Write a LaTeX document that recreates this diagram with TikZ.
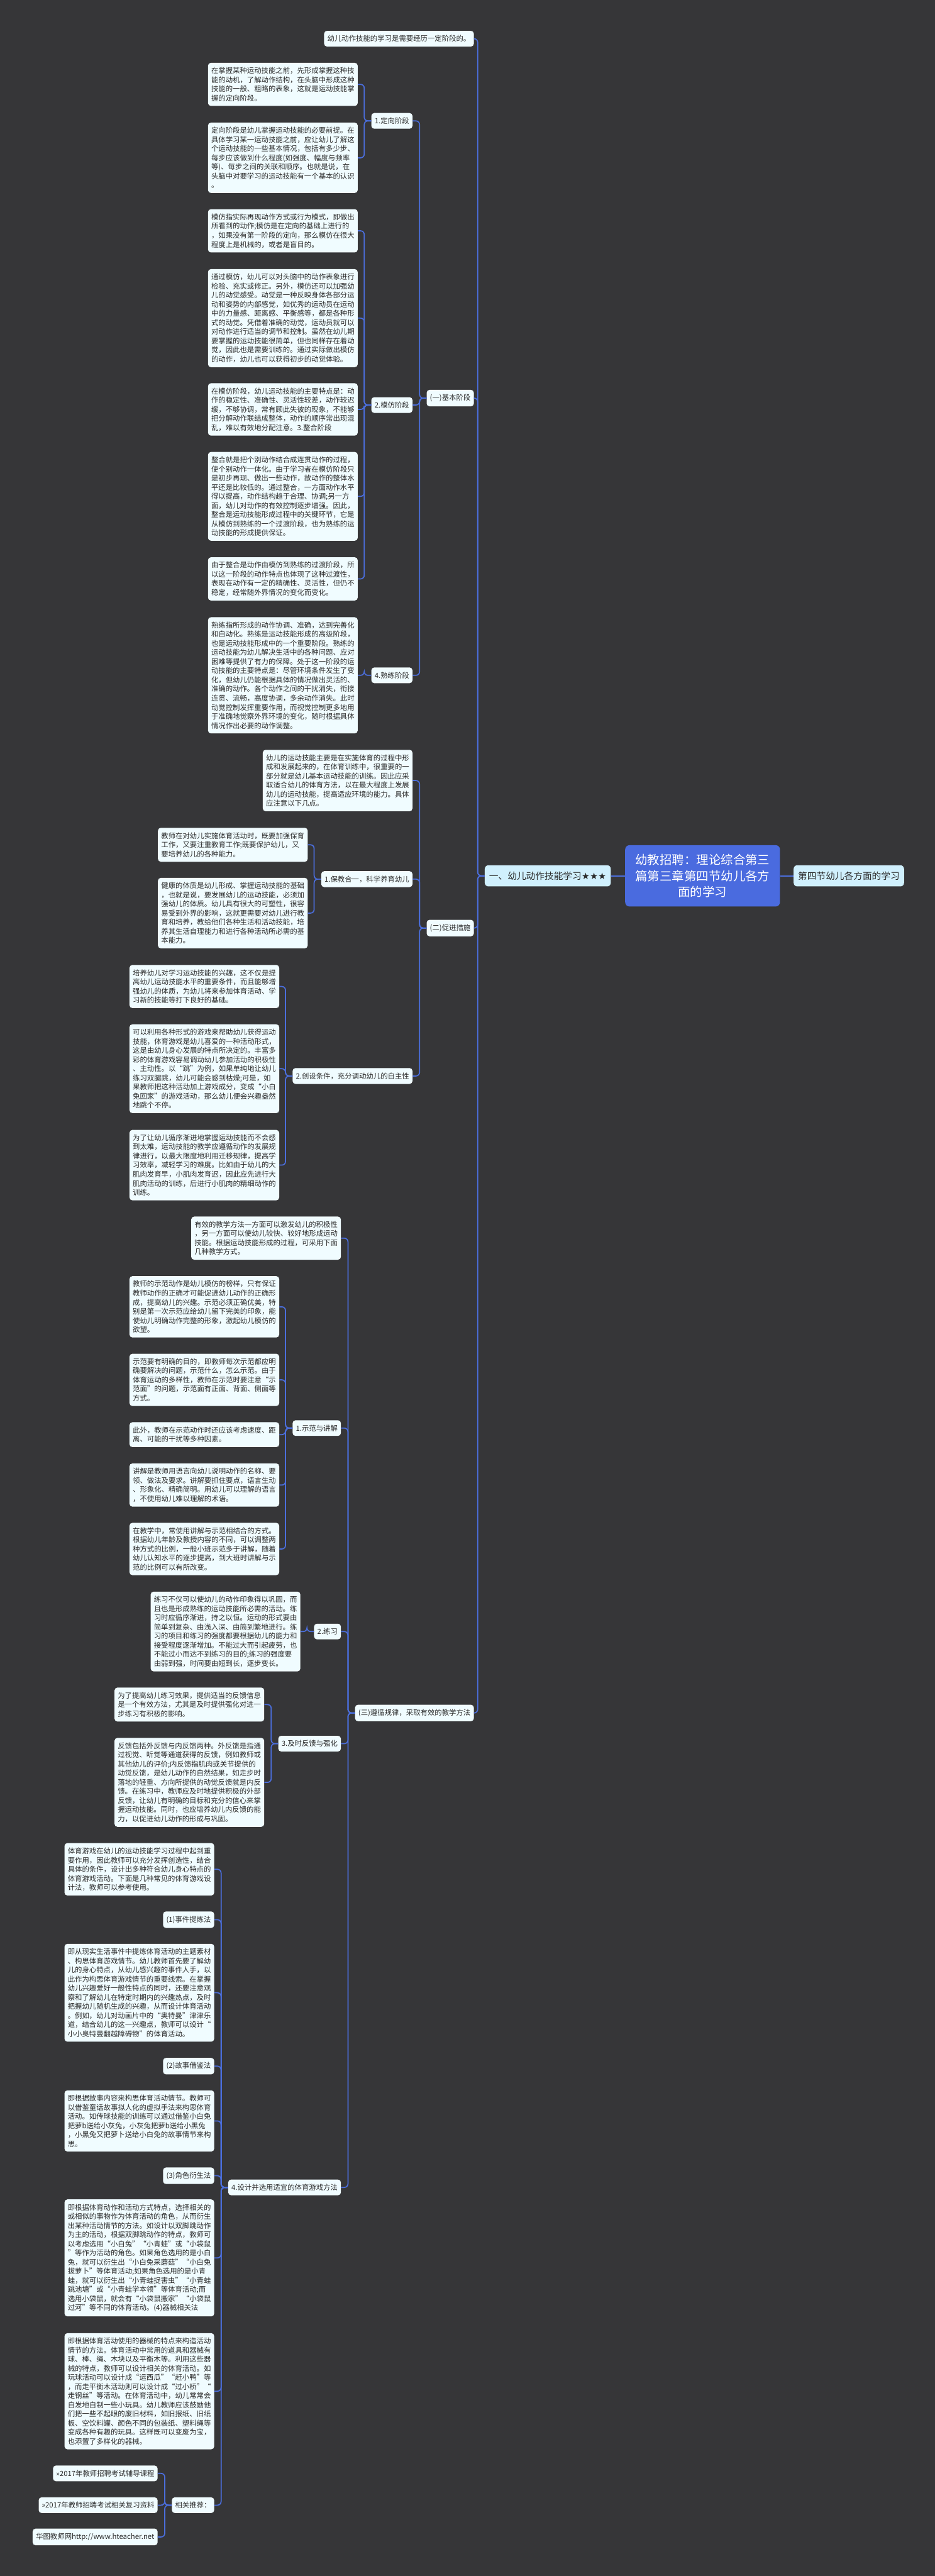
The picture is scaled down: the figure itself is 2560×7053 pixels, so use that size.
\documentclass[tikz,border=0pt]{standalone}
\usepackage{fontspec}
\setmainfont{Noto Sans CJK SC}
\newfontfamily\dejavu{DejaVu Sans}
\definecolor{bgc}{HTML}{363638}
\definecolor{linec}{HTML}{4B6EDC}
\definecolor{boxc}{HTML}{F0FCFF}
\definecolor{lvc}{HTML}{D0F0FD}
\definecolor{rootc}{HTML}{4A6BDF}
\definecolor{txtc}{HTML}{2B2B2B}
\tikzset{
  box/.style={fill=boxc, rounded corners=4pt, text=txtc, font=\fontsize{9.8pt}{12.5pt}\selectfont, inner xsep=4.5pt, inner ysep=6.2pt, anchor=east},
  tbox/.style={box, text width=196pt, align=left},
  lvone/.style={fill=lvc, rounded corners=5pt, text=txtc, font=\fontsize{12.65pt}{15pt}\selectfont, inner xsep=6pt, inner ysep=8.6pt},
  rootbox/.style={fill=rootc, rounded corners=6pt, text=white, font=\fontsize{16.75pt}{22pt}\selectfont, align=center, minimum width=212pt, minimum height=84pt, inner xsep=6pt},
  conn/.style={draw=linec, line width=1.5pt, rounded corners=5pt}
}
\newcommand\lnk[2]{\draw[conn] (#1.west) -- ++(-9.5pt,0pt) |- (#2.east);}
\begin{document}
\begin{tikzpicture}[x=0.5pt,y=-0.5pt]
\fill[bgc] (0,0) rectangle (2560,7053);
\useasboundingbox (0,0) rectangle (2560,7053);

% root and level one
\node[rootbox] (root) at (1924,2398) {幼教招聘：理论综合第三\\篇第三章第四节幼儿各方\\面的学习};
\node[lvone, anchor=east] (L1) at (1673,2398) {一、幼儿动作技能学习{\dejavu ★★★}};
\node[lvone, anchor=west] (R1) at (2173,2398) {第四节幼儿各方面的学习};

% second level
\node[tbox] (T0) at (1298,106) {幼儿动作技能的学习是需要经历一定阶段的。};
\node[box] (S1) at (1298,1090) {(一)基本阶段};
\node[box] (S2) at (1298,2541) {(二)促进措施};
\node[box] (S3) at (1298,4690) {(三)遵循规律，采取有效的教学方法};

% (一)
\node[box] (N1) at (1130,331) {1.定向阶段};
\node[box] (N2) at (1130,1109) {2.模仿阶段};
\node[box] (N4) at (1130,1849) {4.熟练阶段};

\node[tbox] (A1) at (980,231) {在掌握某种运动技能之前，先形成掌握这种技\\能的动机，了解动作结构，在头脑中形成这种\\技能的一般、粗略的表象，这就是运动技能掌\\握的定向阶段。};
\node[tbox] (A2) at (980,432) {定向阶段是幼儿掌握运动技能的必要前提。在\\具体学习某一运动技能之前，应让幼儿了解这\\个运动技能的一些基本情况，包括有多少步、\\每步应该做到什么程度(如强度、幅度与频率\\等)、每步之间的关联和顺序。也就是说，在\\头脑中对要学习的运动技能有一个基本的认识\\。};
\node[tbox] (A3) at (980,632) {模仿指实际再现动作方式或行为模式，即做出\\所看到的动作;模仿是在定向的基础上进行的\\，如果没有第一阶段的定向，那么模仿在很大\\程度上是机械的，或者是盲目的。};
\node[tbox] (B2) at (980,871) {通过模仿，幼儿可以对头脑中的动作表象进行\\检验、充实或修正。另外，模仿还可以加强幼\\儿的动觉感受。动觉是一种反映身体各部分运\\动和姿势的内部感觉，如优秀的运动员在运动\\中的力量感、距离感、平衡感等，都是各种形\\式的动觉。凭借着准确的动觉，运动员就可以\\对动作进行适当的调节和控制。虽然在幼儿期\\要掌握的运动技能很简单，但也同样存在着动\\觉，因此也是需要训练的。通过实际做出模仿\\的动作，幼儿也可以获得初步的动觉体验。};
\node[tbox] (B3) at (980,1121) {在模仿阶段，幼儿运动技能的主要特点是：动\\作的稳定性、准确性、灵活性较差，动作较迟\\缓，不够协调，常有顾此失彼的现象，不能够\\把分解动作联结成整体，动作的顺序常出现混\\乱，难以有效地分配注意。3.整合阶段};
\node[tbox] (C1) at (980,1359) {整合就是把个别动作结合成连贯动作的过程，\\使个别动作一体化。由于学习者在模仿阶段只\\是初步再现、做出一些动作，故动作的整体水\\平还是比较低的。通过整合，一方面动作水平\\得以提高，动作结构趋于合理、协调;另一方\\面，幼儿对动作的有效控制逐步增强。因此，\\整合是运动技能形成过程中的关键环节，它是\\从模仿到熟练的一个过渡阶段，也为熟练的运\\动技能的形成提供保证。};
\node[tbox] (C2) at (980,1585) {由于整合是动作由模仿到熟练的过渡阶段，所\\以这一阶段的动作特点也体现了这种过渡性，\\表现在动作有一定的精确性、灵活性，但仍不\\稳定，经常随外界情况的变化而变化。};
\node[tbox] (D1) at (980,1849) {熟练指所形成的动作协调、准确，达到完善化\\和自动化。熟练是运动技能形成的高级阶段，\\也是运动技能形成中的一个重要阶段。熟练的\\运动技能为幼儿解决生活中的各种问题、应对\\困难等提供了有力的保障。处于这一阶段的运\\动技能的主要特点是：尽管环境条件发生了变\\化，但幼儿仍能根据具体的情况做出灵活的、\\准确的动作。各个动作之间的干扰消失，衔接\\连贯、流畅，高度协调，多余动作消失。此时\\动觉控制发挥重要作用，而视觉控制更多地用\\于准确地觉察外界环境的变化，随时根据具体\\情况作出必要的动作调整。};

% (二)
\node[tbox] (E0) at (1130,2137) {幼儿的运动技能主要是在实施体育的过程中形\\成和发展起来的，在体育训练中，很重要的一\\部分就是幼儿基本运动技能的训练。因此应采\\取适合幼儿的体育方法，以在最大程度上发展\\幼儿的运动技能，提高适应环境的能力。具体\\应注意以下几点。};
\node[box] (P1) at (1130,2407) {1.保教合一，科学养育幼儿};
\node[box] (P2) at (1130,2946) {2.创设条件，充分调动幼儿的自主性};
\node[tbox] (F1) at (843,2313) {教师在对幼儿实施体育活动时，既要加强保育\\工作，又要注重教育工作;既要保护幼儿，又\\要培养幼儿的各种能力。};
\node[tbox] (F2) at (843,2500) {健康的体质是幼儿形成、掌握运动技能的基础\\，也就是说，要发展幼儿的运动技能，必须加\\强幼儿的体质。幼儿具有很大的可塑性，很容\\易受到外界的影响，这就更需要对幼儿进行教\\育和培养，教给他们各种生活和活动技能，培\\养其生活自理能力和进行各种活动所必需的基\\本能力。};
\node[tbox] (G1) at (765,2701) {培养幼儿对学习运动技能的兴趣，这不仅是提\\高幼儿运动技能水平的重要条件，而且能够增\\强幼儿的体质，为幼儿将来参加体育活动、学\\习新的技能等打下良好的基础。};
\node[tbox] (G2) at (765,2926) {可以利用各种形式的游戏来帮助幼儿获得运动\\技能，体育游戏是幼儿喜爱的一种活动形式，\\这是由幼儿身心发展的特点所决定的。丰富多\\彩的体育游戏容易调动幼儿参加活动的积极性\\、主动性。以“跳”为例，如果单纯地让幼儿\\练习双腿跳，幼儿可能会感到枯燥;可是，如\\果教师把这种活动加上游戏成分，变成“小白\\兔回家”的游戏活动，那么幼儿便会兴趣盎然\\地跳个不停。};
\node[tbox] (G3) at (765,3190) {为了让幼儿循序渐进地掌握运动技能而不会感\\到太难，运动技能的教学应遵循动作的发展规\\律进行，以最大限度地利用迁移规律，提高学\\习效率，减轻学习的难度。比如由于幼儿的大\\肌肉发育早，小肌肉发育迟，因此应先进行大\\肌肉活动的训练，后进行小肌肉的精细动作的\\训练。};

% (三)
\node[tbox] (H0) at (934,3390) {有效的教学方法一方面可以激发幼儿的积极性\\，另一方面可以使幼儿较快、较好地形成运动\\技能。根据运动技能形成的过程，可采用下面\\几种教学方式。};
\node[box] (Q1) at (934,3910) {1.示范与讲解};
\node[box] (Q2) at (934,4467) {2.练习};
\node[box] (Q3) at (934,4774) {3.及时反馈与强化};
\node[box] (Q4) at (934,5989) {4.设计并选用适宜的体育游戏方法};

\node[tbox] (I1) at (765,3578) {教师的示范动作是幼儿模仿的榜样，只有保证\\教师动作的正确才可能促进幼儿动作的正确形\\成，提高幼儿的兴趣。示范必须正确优美，特\\别是第一次示范应给幼儿留下完美的印象，能\\使幼儿明确动作完整的形象，激起幼儿模仿的\\欲望。};
\node[tbox] (I2) at (765,3778) {示范要有明确的目的，即教师每次示范都应明\\确要解决的问题，示范什么，怎么示范。由于\\体育运动的多样性，教师在示范时要注意“示\\范面”的问题，示范面有正面、背面、侧面等\\方式。};
\node[tbox] (I3) at (765,3928) {此外，教师在示范动作时还应该考虑速度、距\\离、可能的干扰等多种因素。};
\node[tbox] (I4) at (765,4066) {讲解是教师用语言向幼儿说明动作的名称、要\\领、做法及要求。讲解要抓住要点，语言生动\\、形象化、精确简明。用幼儿可以理解的语言\\，不使用幼儿难以理解的术语。};
\node[tbox] (I5) at (765,4241) {在教学中，常使用讲解与示范相结合的方式。\\根据幼儿年龄及教授内容的不同，可以调整两\\种方式的比例，一般小班示范多于讲解，随着\\幼儿认知水平的逐步提高，到大班时讲解与示\\范的比例可以有所改变。};
\node[tbox] (J1) at (823,4467) {练习不仅可以使幼儿的动作印象得以巩固，而\\且也是形成熟练的运动技能所必需的活动。练\\习时应循序渐进，持之以恒。运动的形式要由\\简单到复杂、由浅入深、由简到繁地进行。练\\习的项目和练习的强度都要根据幼儿的能力和\\接受程度逐渐增加。不能过大而引起疲劳，也\\不能过小而达不到练习的目的;练习的强度要\\由弱到强，时间要由短到长，逐步变长。};
\node[tbox] (K1) at (724,4667) {为了提高幼儿练习效果，提供适当的反馈信息\\是一个有效方法，尤其是及时提供强化对进一\\步练习有积极的影响。};
\node[tbox] (K2) at (724,4880) {反馈包括外反馈与内反馈两种。外反馈是指通\\过视觉、听觉等通道获得的反馈，例如教师或\\其他幼儿的评价;内反馈指肌肉或关节提供的\\动觉反馈，是幼儿动作的自然结果，如走步时\\落地的轻重、方向所提供的动觉反馈就是内反\\馈。在练习中，教师应及时地提供积极的外部\\反馈，让幼儿有明确的目标和充分的信心来掌\\握运动技能。同时，也应培养幼儿内反馈的能\\力，以促进幼儿动作的形成与巩固。};

\node[tbox] (L0) at (587,5118) {体育游戏在幼儿的运动技能学习过程中起到重\\要作用，因此教师可以充分发挥创造性，结合\\具体的条件，设计出多种符合幼儿身心特点的\\体育游戏活动。下面是几种常见的体育游戏设\\计法，教师可以参考使用。};
\node[box] (L1n) at (587,5256) {(1)事件提炼法};
\node[tbox] (L2) at (587,5456) {即从现实生活事件中提炼体育活动的主题素材\\、构思体育游戏情节。幼儿教师首先要了解幼\\儿的身心特点，从幼儿感兴趣的事件人手，以\\此作为构思体育游戏情节的重要线索。在掌握\\幼儿兴趣爱好一般性特点的同时，还要注意观\\察和了解幼儿在特定时期内的兴趣热点，及时\\把握幼儿随机生成的兴趣，从而设计体育活动\\。例如，幼儿对动画片中的“奥特曼”津津乐\\道，结合幼儿的这一兴趣点，教师可以设计“\\小小奥特曼翻越障碍物”的体育活动。};
\node[box] (L3n) at (587,5657) {(2)故事借鉴法};
\node[tbox] (L4) at (587,5807) {即根据故事内容来构思体育活动情节。教师可\\以借鉴童话故事拟人化的虚拟手法来构思体育\\活动。如传球技能的训练可以通过借鉴小白兔\\把萝b送给小灰兔，小灰兔把萝b送给小黑兔\\，小黑兔又把萝卜送给小白兔的故事情节来构\\思。};
\node[box] (L5n) at (587,5957) {(3)角色衍生法};
\node[tbox] (L6) at (587,6182) {即根据体育动作和活动方式特点，选择相关的\\或相似的事物作为体育活动的角色，从而衍生\\出某种活动情节的方法。如设计以双脚跳动作\\为主的活动，根据双脚跳动作的特点，教师可\\以考虑选用“小白兔”“小青蛙”或“小袋鼠\\”等作为活动的角色。如果角色选用的是小白\\兔，就可以衍生出“小白兔采蘑菇”“小白兔\\拔萝卜”等体育活动;如果角色选用的是小青\\蛙，就可以衍生出“小青蛙捉害虫”“小青蛙\\跳池塘”或“小青蛙学本领”等体育活动;而\\选用小袋鼠，就会有“小袋鼠搬家”“小袋鼠\\过河”等不同的体育活动。(4)器械相关法};
\node[tbox] (L7) at (587,6547) {即根据体育活动使用的器械的特点来构造活动\\情节的方法。体育活动中常用的道具和器械有\\球、棒、绳、木块以及平衡木等。利用这些器\\械的特点，教师可以设计相关的体育活动。如\\玩球活动可以设计成“运西瓜”“赶小鸭”等\\，而走平衡木活动则可以设计成“过小桥”“\\走钢丝”等活动。在体育活动中，幼儿常常会\\自发地自制一些小玩具。幼儿教师应该鼓励他\\们把一些不起眼的废旧材料，如旧报纸、旧纸\\板、空饮料罐、颜色不同的包装纸、塑料绳等\\变成各种有趣的玩具。这样既可以变废为宝，\\也添置了多样化的器械。};
\node[box] (RR) at (587,6859) {相关推荐：};
\node[box] (RR1) at (432,6772) {>>2017年教师招聘考试辅导课程};
\node[box] (RR2) at (432,6859) {>>2017年教师招聘考试相关复习资料};
\node[box] (RR3) at (432,6946) {华图教师网http://www.hteacher.net};

% connectors
\draw[conn] (root.west) -- (L1.east);
\draw[conn] (root.east) -- (R1.west);
\foreach \c in {T0,S1,S2,S3} {\lnk{L1}{\c}}
\foreach \c in {N1,N2,N4} {\lnk{S1}{\c}}
\foreach \c in {A1,A2} {\lnk{N1}{\c}}
\foreach \c in {A3,B2,B3,C1,C2} {\lnk{N2}{\c}}
\lnk{N4}{D1}
\foreach \c in {E0,P1,P2} {\lnk{S2}{\c}}
\foreach \c in {F1,F2} {\lnk{P1}{\c}}
\foreach \c in {G1,G2,G3} {\lnk{P2}{\c}}
\foreach \c in {H0,Q1,Q2,Q3,Q4} {\lnk{S3}{\c}}
\foreach \c in {I1,I2,I3,I4,I5} {\lnk{Q1}{\c}}
\lnk{Q2}{J1}
\foreach \c in {K1,K2} {\lnk{Q3}{\c}}
\foreach \c in {L0,L1n,L2,L3n,L4,L5n,L6,L7,RR} {\lnk{Q4}{\c}}
\foreach \c in {RR1,RR2,RR3} {\lnk{RR}{\c}}
\end{tikzpicture}
\end{document}
